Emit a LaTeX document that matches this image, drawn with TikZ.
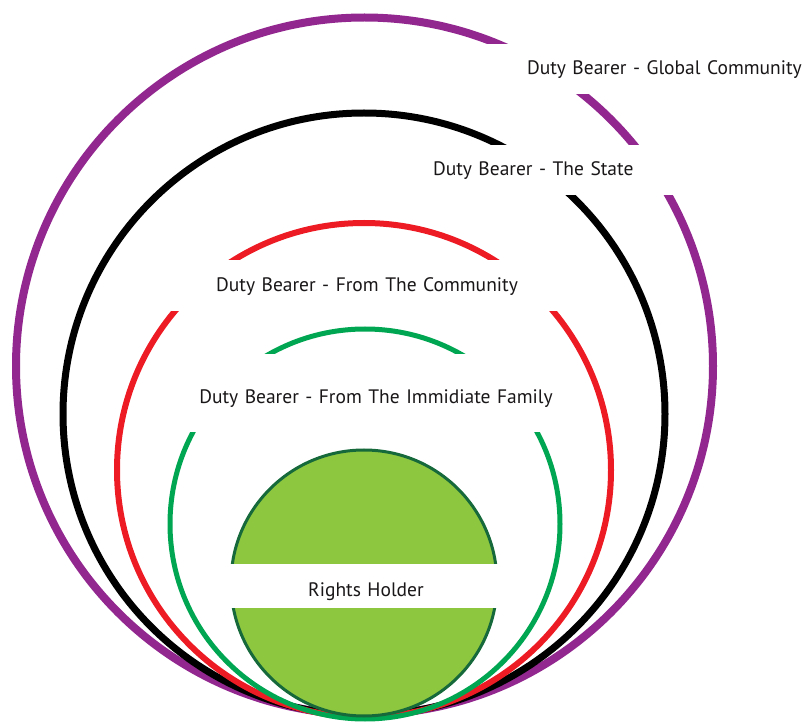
\documentclass[tikz,border=0pt]{standalone}
\usepackage{fontspec}
\setmainfont{PT Sans}
\usetikzlibrary{positioning}
\definecolor{ringpurple}{HTML}{92278F}
\definecolor{ringred}{HTML}{ED1C24}
\definecolor{ringgreen}{HTML}{00A651}
\definecolor{holderfill}{HTML}{8DC63F}
\definecolor{holderline}{HTML}{16693A}
\definecolor{tagtext}{HTML}{1A1718}

\begin{document}
\begin{tikzpicture}[x=1pt, y=-1pt,
  ring/.style={circle, draw, inner sep=0pt, outer sep=0pt},
  tag/.style={fill=white, inner ysep=0pt, outer sep=0pt, minimum height=50pt,
    text height=12pt, text depth=0pt, text=tagtext, font=\fontsize{19.5}{22}\selectfont},
  lowtag/.style={tag, text height=20pt}
]
  \useasboundingbox (0,0) rectangle (807,722);

  \node[ring, draw=ringpurple, line width=8pt, minimum size=697pt] (global) at (364.5,366) {};
  \node[ring, draw=black, line width=7pt, minimum size=602pt] (state) at (364,414) {};
  \node[ring, draw=ringred, line width=6pt, minimum size=494pt] (community) at (364,470) {};
  \node[ring, draw=ringgreen, line width=5pt, minimum size=390pt] (family) at (365,524) {};
  \node[ring, draw=holderline, fill=holderfill, line width=3pt, minimum size=266pt] (holder) at (364,583) {};

  \node[tag, anchor=west, align=left, inner xsep=42pt, text width=300pt] (globaltag) at (485,69) {Duty Bearer - Global Community};
  \node[tag, anchor=west, align=left, inner xsep=13pt, text width=250pt] (statetag) at (420,170) {Duty Bearer - The State};
  \node[tag, align=center, inner xsep=0pt, text width=400pt, minimum height=51pt] (communitytag) at (367,285.5) {Duty Bearer - From The Community};
  \node[lowtag, align=center, inner xsep=0pt, text width=376pt, minimum height=78pt] (familytag) at (376,393) {Duty Bearer - From The Immidiate Family};
  \node[lowtag, align=center, inner xsep=0pt, text width=274pt, minimum height=44pt] (holdertag) at (366,586) {Rights Holder};
\end{tikzpicture}
\end{document}
